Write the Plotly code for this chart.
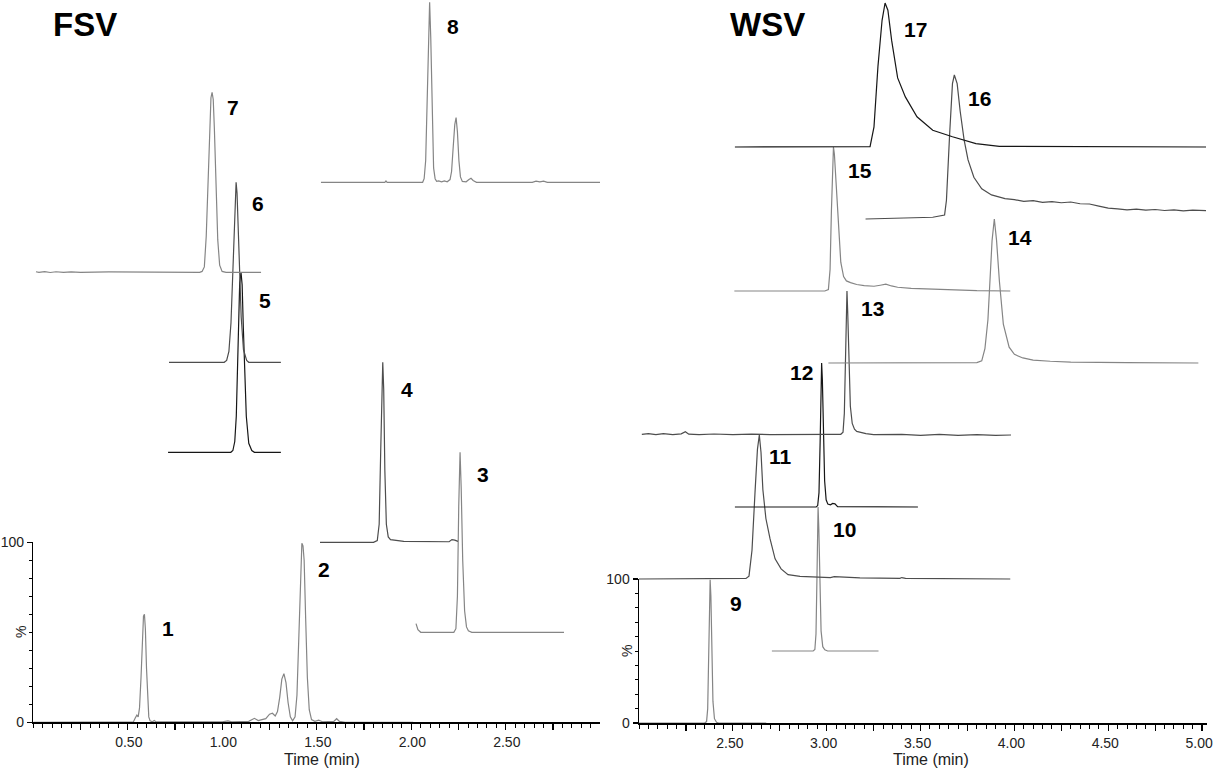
import plotly.graph_objects as go

# ---------------- DATA (time as drawn in min, intensity in % above each trace's own baseline) -------------
fsv12_t = [0.000, 0.500, 0.530, 0.540, 0.548, 0.555, 0.562, 0.570, 0.577, 0.583, 0.588, 0.593, 0.599, 0.605, 0.611, 0.618, 0.630, 0.640, 0.650, 1.000, 1.030, 1.050, 1.140, 1.170, 1.190, 1.210, 1.230, 1.250, 1.265, 1.280, 1.292, 1.304, 1.315, 1.326, 1.337, 1.348, 1.360, 1.372, 1.385, 1.395, 1.405, 1.414, 1.421, 1.427, 1.433, 1.441, 1.450, 1.460, 1.472, 1.490, 1.510, 1.530, 1.590, 1.605, 1.620, 1.650, 2.010]
fsv12_h = [0, 0, 0.3, 2.5, 4, 3, 8, 25, 48, 59, 60, 52, 30, 10, 3, 0.8, 0.3, 1.0, 0.2, 0.2, 0.8, 0.2, 0.5, 2.2, 1.0, 1.5, 2.0, 4.5, 5.0, 3.5, 6, 14, 24, 27, 22, 11, 3, 0.8, 3, 15, 50, 88, 99.5, 98, 90, 58, 25, 7, 1.5, 0.5, 1.2, 0.3, 0.5, 2.0, 0.5, 0, 0]

fsv3_t = [2.025, 2.035, 2.050, 2.225, 2.236, 2.244, 2.251, 2.258, 2.264, 2.272, 2.282, 2.292, 2.302, 2.320, 2.808]
fsv3_h = [4.8, 1.5, 0, 0, 2, 20, 70, 100, 80, 40, 12, 3, 0.8, 0, 0]

fsv4_t = [1.517, 1.800, 1.820, 1.830, 1.838, 1.844, 1.849, 1.854, 1.860, 1.868, 1.878, 1.890, 1.920, 1.960, 2.200, 2.215, 2.230, 2.247]
fsv4_h = [0, 0, 1, 10, 50, 92, 100, 85, 40, 10, 3, 1.5, 1.0, 0.5, 0.3, 1.5, 1.2, 0.5]

fsv5_t = [0.713, 1.045, 1.056, 1.066, 1.074, 1.080, 1.086, 1.092, 1.099, 1.105, 1.111, 1.118, 1.127, 1.140, 1.156, 1.170, 1.310]
fsv5_h = [0, 0, 1, 6, 20, 42, 72, 94, 100, 93, 70, 45, 20, 5, 1, 0, 0]

fsv6_t = [0.718, 1.010, 1.023, 1.035, 1.046, 1.055, 1.062, 1.068, 1.073, 1.078, 1.084, 1.091, 1.100, 1.112, 1.129, 1.140, 1.310]
fsv6_h = [0, 0, 1, 6, 22, 50, 75, 93, 100, 94, 75, 50, 25, 7, 1, 0, 0]

fsv7_t = [0.014, 0.030, 0.060, 0.090, 0.120, 0.160, 0.200, 0.250, 0.400, 0.600, 0.880, 0.893, 0.905, 0.915, 0.925, 0.933, 0.940, 0.946, 0.952, 0.958, 0.966, 0.976, 0.986, 0.999, 1.020, 1.205]
fsv7_h = [0.3, 0, 0.35, -0.1, 0.3, 0, 0.25, 0, 0.2, 0, 0, 0.5, 3, 20, 55, 82, 97, 100, 96, 80, 50, 18, 4, 0.5, 0, 0]

fsv8_t = [1.522, 1.860, 1.866, 1.872, 2.060, 2.068, 2.076, 2.083, 2.090, 2.097, 2.103, 2.110, 2.118, 2.126, 2.134, 2.145, 2.160, 2.175, 2.190, 2.205, 2.213, 2.222, 2.230, 2.237, 2.244, 2.252, 2.260, 2.270, 2.290, 2.305, 2.316, 2.327, 2.345, 2.640, 2.660, 2.680, 2.700, 2.720, 3.000]
fsv8_h = [0, 0, 0.8, 0, 0, 2, 12, 45, 85, 100, 80, 35, 8, 2, 0.5, 0.8, 0.3, 0.8, 0.3, 1.5, 6, 20, 32, 36, 28, 12, 3, 0.5, 0.3, 1.5, 2.2, 1.0, 0, 0, 0.6, 0.2, 0.6, 0, 0]

wsv9_t = [2.000, 2.350, 2.360, 2.366, 2.371, 2.375, 2.379, 2.383, 2.388, 2.394, 2.402, 2.413, 2.425, 2.678]
wsv9_h = [0, 0, 1, 10, 45, 85, 99.5, 88, 50, 15, 3, 0.5, 0, 0]

wsv10_t = [2.708, 2.928, 2.937, 2.943, 2.948, 2.951, 2.954, 2.958, 2.963, 2.970, 2.979, 2.990, 3.005, 3.276]
wsv10_h = [0, 0, 1, 12, 50, 88, 100, 85, 45, 14, 3, 0.8, 0, 0]

wsv11_t = [2.000, 2.550, 2.570, 2.586, 2.602, 2.618, 2.631, 2.641, 2.650, 2.660, 2.676, 2.698, 2.725, 2.757, 2.794, 2.858, 2.964, 3.020, 3.040, 3.177, 3.390, 3.400, 3.420, 3.600, 3.978]
wsv11_h = [0, 0, 0.4, 2, 20, 60, 90, 100, 88, 62, 42, 28, 14, 7, 3, 1.8, 1.3, 1.0, 1.6, 0.8, 0.5, 1.0, 0.4, 0.2, 0]

wsv12_t = [2.511, 2.944, 2.952, 2.959, 2.965, 2.969, 2.973, 2.977, 2.982, 2.989, 2.997, 3.006, 3.020, 3.032, 3.044, 3.058, 3.486]
wsv12_h = [0, 0, 1, 10, 45, 85, 100, 88, 50, 18, 5, 2, 1.5, 2.5, 2.2, 0.3, 0]

wsv13_t = [2.015, 2.050, 2.090, 2.130, 2.180, 2.225, 2.247, 2.265, 2.320, 2.400, 2.500, 2.600, 2.700, 2.800, 2.900, 3.000, 3.075, 3.087, 3.094, 3.100, 3.104, 3.108, 3.112, 3.118, 3.126, 3.136, 3.148, 3.160, 3.185, 3.209, 3.250, 3.400, 3.500, 3.600, 3.700, 3.800, 3.900, 3.982]
wsv13_h = [0.5, 1.0, 0.2, 0.9, 0.3, 0.8, 2.3, 0.6, 0.3, 0.7, 0.2, 0.6, 0.3, 0.5, 0.2, 0.4, 0.5, 2, 15, 60, 90, 100, 85, 50, 20, 8, 4, 2.5, 1.5, 1.0, 0.3, 0.5, -0.2, 0.4, -0.3, 0.3, -0.2, 0]

wsv14_t = [3.009, 3.800, 3.826, 3.843, 3.859, 3.870, 3.881, 3.893, 3.905, 3.920, 3.941, 3.972, 4.000, 4.045, 4.100, 4.191, 4.300, 4.600, 4.980]
wsv14_h = [0, 0.3, 1.5, 10, 30, 55, 85, 100, 85, 57, 27, 11, 6, 3.5, 2, 1.2, 0.6, 0.3, 0]

wsv15_t = [2.508, 2.990, 3.009, 3.018, 3.025, 3.031, 3.036, 3.041, 3.048, 3.055, 3.064, 3.075, 3.090, 3.105, 3.127, 3.160, 3.200, 3.252, 3.285, 3.315, 3.345, 3.378, 3.450, 3.550, 3.670, 3.800, 3.978]
wsv15_h = [0, 0, 1, 15, 55, 90, 100, 95, 80, 63, 40, 20, 10, 7, 5.8, 4.5, 3.8, 3.3, 4.0, 4.7, 3.5, 2.6, 1.8, 1.2, 0.5, 0.2, 0]

wsv16_t = [3.207, 3.400, 3.565, 3.628, 3.638, 3.655, 3.670, 3.680, 3.695, 3.711, 3.732, 3.753, 3.784, 3.826, 3.878, 3.950, 4.000, 4.050, 4.100, 4.150, 4.200, 4.250, 4.300, 4.350, 4.400, 4.450, 4.500, 4.550, 4.600, 4.650, 4.700, 4.750, 4.800, 4.850, 4.900, 4.950, 5.021]
wsv16_h = [0, 0.6, 1.2, 2.8, 13, 59, 94, 100, 94, 75, 55, 41, 29, 21, 16.7, 14.2, 13.5, 12.2, 12.8, 11.6, 12.1, 11.3, 11.8, 10.6, 10.4, 9.0, 7.6, 7.0, 6.4, 6.8, 6.1, 6.6, 5.9, 6.4, 5.7, 6.2, 5.8]

wsv17_t = [2.511, 3.000, 3.231, 3.252, 3.273, 3.295, 3.311, 3.326, 3.346, 3.378, 3.419, 3.481, 3.565, 3.670, 3.795, 3.920, 4.200, 4.500, 5.021]
wsv17_h = [0, 0.2, 0.3, 14, 55.8, 88, 100, 95, 74, 48, 34.8, 21, 11.6, 7.1, 2.3, 0.5, 0.3, 0, 0]

# peak labels (text, time, % on the stacked scale)
fsv_labels = ["1", "2", "3", "4", "5", "6", "7", "8"]
fsv_label_t = [0.714, 1.538, 2.381, 1.976, 1.226, 1.190, 1.055, 2.221]
fsv_label_y = [52.2, 85.0, 137.4, 185.0, 234.6, 288.3, 341.3, 386.4]
wsv_labels = ["9", "10", "11", "12", "13", "14", "15", "16", "17"]
wsv_label_t = [2.519, 3.096, 2.752, 2.866, 3.242, 4.028, 3.180, 3.816, 3.471]
wsv_label_y = [83.1, 134.5, 184.9, 243.3, 288.0, 337.3, 384.0, 433.8, 481.3]

left_ticks = [0.25, 0.50, 0.75, 1.00, 1.25, 1.50, 1.75, 2.00, 2.25, 2.50, 2.75]
right_ticks = [2.25, 2.50, 2.75, 3.00, 3.25, 3.50, 3.75, 4.00, 4.25, 4.50, 4.75, 5.00]

# ---------------- LAYOUT / STYLE -------------
W, H = 1214, 773
GRAY, DARK, BLACK = "#858585", "#4d4d4d", "#161616"
FONT = "Arial, Liberation Sans, sans-serif"


def fx(px):
    return px / W


def fy(py):
    return 1 - py / H


# (t, h, baseline offset, colour, y axis) for each stacked trace;
# the bottom chromatogram of each panel sits on the visible 0-100 % axis
left_traces = [
    (fsv12_t, fsv12_h, 0, GRAY, "y"),
    (fsv3_t, fsv3_h, 50, GRAY, "y3"),
    (fsv4_t, fsv4_h, 100, DARK, "y3"),
    (fsv5_t, fsv5_h, 150, BLACK, "y3"),
    (fsv6_t, fsv6_h, 200, DARK, "y3"),
    (fsv7_t, fsv7_h, 250, GRAY, "y3"),
    (fsv8_t, fsv8_h, 300, GRAY, "y3"),
]
right_traces = [
    (wsv9_t, wsv9_h, 0, GRAY, "y2"),
    (wsv10_t, wsv10_h, 50, GRAY, "y4"),
    (wsv11_t, wsv11_h, 100, DARK, "y4"),
    (wsv12_t, wsv12_h, 150, BLACK, "y4"),
    (wsv13_t, wsv13_h, 200, DARK, "y4"),
    (wsv14_t, wsv14_h, 250, GRAY, "y4"),
    (wsv15_t, wsv15_h, 300, GRAY, "y4"),
    (wsv16_t, wsv16_h, 350, DARK, "y4"),
    (wsv17_t, wsv17_h, 400, BLACK, "y4"),
]

fig = go.Figure()
for t, h, base, col, ya in left_traces:
    fig.add_trace(go.Scatter(x=t, y=[base + v for v in h], xaxis="x", yaxis=ya, mode="lines",
                             line=dict(color=col, width=1.2), hoverinfo="skip", showlegend=False))
for t, h, base, col, ya in right_traces:
    fig.add_trace(go.Scatter(x=t, y=[base + v for v in h], xaxis="x2", yaxis=ya, mode="lines",
                             line=dict(color=col, width=1.2), hoverinfo="skip", showlegend=False))

# panel geometry (pixels)
L_X0, L_X1, L_Y0, L_PX = 33.3, 600.0, 722.3, 1.8
R_X0, R_X1, R_Y0, R_PX = 639.0, 1207.0, 723.0, 1.44

tickfont = dict(family=FONT, size=14, color="#222")


def xaxis_cfg(dom, rng, ticks, shift):
    return dict(domain=dom, range=rng, showline=True, linewidth=2, linecolor="black", mirror=False,
                showgrid=False, zeroline=False, automargin=False, ticks="outside", ticklen=6, tickwidth=1.3,
                tickcolor="black", tickmode="array", tickvals=ticks,
                ticktext=[("%.2f" % v) if abs(v * 2 - round(v * 2)) < 1e-9 else "" for v in ticks],
                tickfont=tickfont, ticklabeloverflow="allow", ticklabelshift=shift,
                minor=dict(tickmode="linear", tick0=0, dtick=0.05, ticks="outside", ticklen=3.5,
                           tickwidth=1, tickcolor="black"),
                fixedrange=True)


def yaxis_small(dom, anchor):
    return dict(domain=dom, range=[0, 100], anchor=anchor, showline=True, linewidth=1.5, linecolor="black",
                showgrid=False, zeroline=False, automargin=False, ticks="outside", ticklen=5, tickwidth=1.3,
                tickcolor="black", tickmode="array", tickvals=[0, 100], ticktext=["0", "100"],
                tickfont=tickfont, ticklabeloverflow="allow",
                minor=dict(tickmode="linear", tick0=0, dtick=10, ticks="outside", ticklen=3, tickwidth=1,
                           tickcolor="black"),
                fixedrange=True)


fig.update_layout(
    template="none",
    width=W, height=H, autosize=False,
    margin=dict(l=0, r=0, t=0, b=0, pad=0, autoexpand=False),
    paper_bgcolor="white", plot_bgcolor="rgba(0,0,0,0)",
    xaxis=xaxis_cfg([fx(L_X0), fx(L_X1)], [0, (L_X1 - L_X0) / 189.0], left_ticks, 1) | dict(anchor="y"),
    xaxis2=xaxis_cfg([fx(R_X0), fx(R_X1)], [2.0, 2.0 + (R_X1 - R_X0) / 187.7], right_ticks, -3)
    | dict(anchor="y2"),
    yaxis=yaxis_small([fy(L_Y0), fy(L_Y0 - 100 * L_PX)], "x"),
    yaxis2=yaxis_small([fy(R_Y0), fy(R_Y0 - 100 * R_PX)], "x2"),
    yaxis3=dict(domain=[fy(L_Y0), 1], range=[0, L_Y0 / L_PX], anchor="x", visible=False, fixedrange=True,
                automargin=False),
    yaxis4=dict(domain=[fy(R_Y0), 1], range=[0, R_Y0 / R_PX], anchor="x2", visible=False, fixedrange=True,
                automargin=False),
)

ann = []
for txt, t, y in zip(fsv_labels, fsv_label_t, fsv_label_y):
    ann.append(dict(x=t, y=y, xref="x", yref="y3", text="<b>%s</b>" % txt, showarrow=False,
                    font=dict(family=FONT, size=21, color="black"), xanchor="center", yanchor="middle"))
for txt, t, y in zip(wsv_labels, wsv_label_t, wsv_label_y):
    ann.append(dict(x=t, y=y, xref="x2", yref="y4", text="<b>%s</b>" % txt, showarrow=False,
                    font=dict(family=FONT, size=21, color="black"), xanchor="center", yanchor="middle"))
# panel titles
ann.append(dict(x=fx(85), y=fy(25), xref="paper", yref="paper", text="<b>FSV</b>", showarrow=False,
                font=dict(family=FONT, size=33, color="black"), xanchor="center", yanchor="middle"))
ann.append(dict(x=fx(767), y=fy(25), xref="paper", yref="paper", text="<b>WSV</b>", showarrow=False,
                font=dict(family=FONT, size=33, color="black"), xanchor="center", yanchor="middle"))
# axis titles
for xc in (322, 931):
    ann.append(dict(x=fx(xc), y=fy(759), xref="paper", yref="paper", text="Time (min)", showarrow=False,
                    font=dict(family=FONT, size=16, color="#222"), xanchor="center", yanchor="middle"))
for xc, yc in ((21, 632), (627, 651)):
    ann.append(dict(x=fx(xc), y=fy(yc), xref="paper", yref="paper", text="%", showarrow=False, textangle=-90,
                    font=dict(family=FONT, size=14, color="#222"), xanchor="center", yanchor="middle"))
fig.update_layout(annotations=ann)

fig.write_html("out.html", config={"displayModeBar": False, "staticPlot": True},
               post_script="document.body.style.margin='0';document.body.style.overflow='hidden';")
